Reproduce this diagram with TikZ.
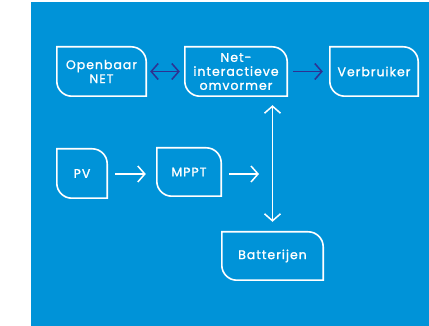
\documentclass[tikz,border=0pt]{standalone}
\usepackage{fontspec}
\setmainfont{Poppins}[LetterSpace=8, FakeBold=1.2]
\usetikzlibrary{arrows.meta}
\definecolor{bgblue}{HTML}{0093D8}
\definecolor{darkarrow}{HTML}{2E3192}
\newcommand\leafbox[1]{%
  \draw[boxline] (#1.north west) -- ([xshift=-15pt]#1.north east)
    arc[start angle=90,end angle=0,radius=15pt] -- (#1.south east)
    -- ([xshift=15pt]#1.south west)
    arc[start angle=270,end angle=180,radius=15pt] -- cycle;}
\tikzset{
  box/.style={inner sep=0pt, align=center, text=white, font=\fontsize{12.5}{14}\selectfont},
  boxline/.style={white, line width=1.6pt},
  arr/.style={line width=1.5pt, -{Straight Barb[length=7pt,width=16pt,line width=1.5pt]}},
  darr/.style={line width=1.5pt, {Straight Barb[length=7pt,width=16pt,line width=1.5pt]}-{Straight Barb[length=7pt,width=16pt,line width=1.5pt]}},
}
\begin{document}
\begin{tikzpicture}[x=1pt,y=-1pt]
\useasboundingbox (0,0) rectangle (429,326);
\fill[bgblue] (31,2) rectangle (429,326);
\node[box, minimum width=89pt, minimum height=49pt] (opn) at (101.5,71.5) {Openbaar\\NET};
\node[box, minimum width=102pt, minimum height=49pt] (net) at (236,71.5) {Net-\\interactieve\\omvormer};
\node[box, minimum width=88pt, minimum height=49pt] (ver) at (374,71.5) {Verbruiker};
\node[box, minimum width=50pt, minimum height=49pt] (pv) at (82,173.5) {PV};
\node[box, minimum width=64pt, minimum height=48pt] (mppt) at (189,172) {MPPT};
\node[box, minimum width=101pt, minimum height=48pt] (bat) at (272.5,256) {Batterijen};
\leafbox{opn}\leafbox{net}\leafbox{ver}\leafbox{pv}\leafbox{mppt}\leafbox{bat}
\coordinate (free) at (259,174);
\draw[darr, darkarrow, shorten <=4pt, shorten >=5pt] (opn.east) -- (net.west);
\draw[arr, darkarrow, shorten <=6pt, shorten >=7pt] (net.east) -- (ver.west);
\draw[arr, white, shorten <=8pt, shorten >=11pt] (pv.east |- 0,174) -- (mppt.west |- 0,174);
\draw[arr, white, shorten <=8pt] (mppt.east |- free) -- (free);
\draw[darr, white, shorten <=10pt, shorten >=9pt] (bat.north) -- (bat.north |- net.south);
\end{tikzpicture}
\end{document}
